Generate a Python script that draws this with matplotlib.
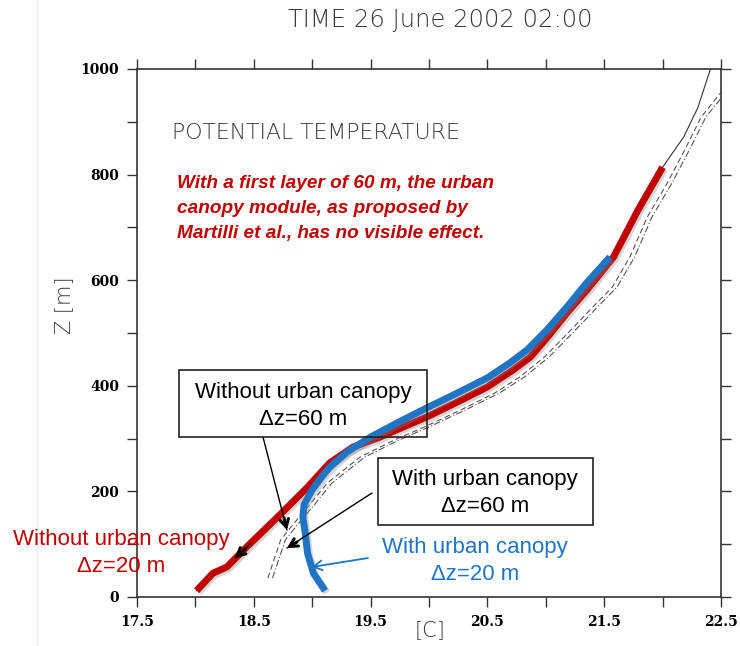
import matplotlib.pyplot as plt
import matplotlib.patheffects as pe
from matplotlib.patches import Rectangle

# potential temperature profiles, 26 June 2002 02:00
# dz = 20 m, no urban canopy (thick red part ends at 814 m)
z_red = [12, 45, 57, 95, 155, 208, 254, 284, 303, 341, 369, 398, 430, 455,
         491, 538, 581, 644, 733, 814, 871, 926, 1000]
t_red = [18.01, 18.15, 18.27, 18.44, 18.72, 18.96, 19.15, 19.35, 19.58, 19.98,
         20.24, 20.50, 20.72, 20.87, 21.01, 21.18, 21.35, 21.58, 21.79, 22.00,
         22.18, 22.30, 22.41]
# dz = 20 m, urban canopy (Martilli)
z_blue = [12, 45, 83, 121, 152, 175, 203, 227, 246, 275, 303, 330, 358, 386,
          415, 443, 468, 506, 549, 595, 644]
t_blue = [19.11, 19.01, 18.96, 18.94, 18.92, 18.93, 19.00, 19.08, 19.15, 19.30,
          19.50, 19.73, 19.98, 20.24, 20.50, 20.69, 20.84, 21.01, 21.18, 21.35,
          21.55]
# dz = 60 m runs
z_dz60 = [36, 108, 133, 170, 216, 265, 297, 322, 354, 386, 417, 455, 500, 544,
          587, 644, 720, 784, 847, 909, 1000]
t_nocan60 = [18.62, 18.73, 18.82, 18.96, 19.13, 19.41, 19.70, 19.96, 20.27,
             20.56, 20.78, 20.99, 21.19, 21.38, 21.57, 21.72, 21.87, 22.04,
             22.19, 22.33, 22.66]
t_can60 = [18.66, 18.77, 18.86, 19.00, 19.17, 19.45, 19.74, 20.00, 20.31,
           20.60, 20.82, 21.03, 21.23, 21.42, 21.61, 21.76, 21.91, 22.08,
           22.23, 22.37, 22.70]

x_ticks = [17.5, 18.5, 19.5, 20.5, 21.5, 22.5]
x_tick_labels = ['17.5', '18.5', '19.5', '20.5', '21.5', '22.5']
x_minor = [18.0, 19.0, 20.0, 21.0, 22.0]
y_ticks = [0, 200, 400, 600, 800, 1000]
y_minor = [100, 300, 500, 700, 900]

RED = '#c00000'
BLUE = '#1f74c4'
GREY = '#555555'
LABEL = '#3a3a3a'

W, H = 740, 646


def fp(x, y):
    # pixel position (from top-left) -> figure fraction
    return (x / W, 1 - y / H)


fig = plt.figure(figsize=(7.4, 6.46), dpi=100)
ax = fig.add_axes([137 / W, 1 - 597 / H, 584 / W, 528 / H])

shadow = [pe.SimpleLineShadow(offset=(1.5, -1.5), shadow_color='#888888', alpha=0.35),
          pe.Normal()]

ax.plot(t_red, z_red, color='#333333', lw=0.8, zorder=2)
ax.plot(t_nocan60, z_dz60, color=GREY, lw=0.8, ls=(0, (5, 3)), zorder=2)
ax.plot(t_can60, z_dz60, color=GREY, lw=0.8, ls=(0, (6, 2, 1, 2)), zorder=2)

red_t = [t for t, z in zip(t_red, z_red) if z <= 814]
red_z = [z for z in z_red if z <= 814]
ax.plot(red_t, red_z, color=RED, lw=5, solid_capstyle='butt',
        solid_joinstyle='round', zorder=4, path_effects=shadow)
ax.plot(t_blue, z_blue, color=BLUE, lw=5, solid_capstyle='butt',
        solid_joinstyle='round', zorder=5, path_effects=shadow)

ax.set_xlim(17.5, 22.5)
ax.set_ylim(0, 1000)
ax.set_xticks(x_ticks)
ax.set_xticklabels(x_tick_labels)
ax.set_xticks(x_minor, minor=True)
ax.set_yticks(y_ticks)
ax.set_yticks(y_minor, minor=True)
ax.tick_params(which='both', direction='out', length=7, width=1, color='#333333',
               top=True, right=True, pad=6)
for lab in ax.get_xticklabels() + ax.get_yticklabels():
    lab.set_fontfamily('DejaVu Serif')
    lab.set_fontweight('bold')
    lab.set_fontsize(10)
for sp in ax.spines.values():
    sp.set_linewidth(1.2)
    sp.set_color('#333333')

fig.text(*fp(440, 20), 'TIME 26 June 2002 02:00', ha='center', va='center',
         fontsize=17.5, color=LABEL, weight='light')
fig.text(*fp(64, 305), 'Z [m]', rotation=90, ha='center', va='center',
         fontsize=15, color=LABEL, weight='light')
fig.text(*fp(430, 630), '[C]', ha='center', va='center', fontsize=15, color=LABEL,
         weight='light')
fig.text(*fp(172, 133), 'POTENTIAL TEMPERATURE', ha='left', va='center',
         fontsize=15.8, color=LABEL, weight='light')

fig.text(*fp(177, 175),
         'With a first layer of 60 m, the urban\n'
         'canopy module, as proposed by\n'
         'Martilli et al., has no visible effect.',
         ha='left', va='top', fontsize=13.7, color=RED, family='Liberation Sans',
         weight='bold', style='italic', linespacing=1.6)

# labelled boxes
for x0, y0, x1, y1 in [(179, 370, 427, 437), (378, 458, 593, 525)]:
    (fx0, fy1), (fx1, fy0) = fp(x0, y0), fp(x1, y1)
    fig.add_artist(Rectangle((fx0, fy0), fx1 - fx0, fy1 - fy0, transform=fig.transFigure,
                             fill=False, edgecolor='#222222', lw=1.2, zorder=6))

fig.text(*fp(303, 406), 'Without urban canopy\n\u0394z=60 m', ha='center', va='center',
         fontsize=16, family='Liberation Sans', color='black', linespacing=1.35)
fig.text(*fp(485, 493), 'With urban canopy\n\u0394z=60 m', ha='center', va='center',
         fontsize=16, family='Liberation Sans', color='black', linespacing=1.35)
fig.text(*fp(121, 553), 'Without urban canopy\n\u0394z=20 m', ha='center', va='center',
         fontsize=16, family='Liberation Sans', color=RED, linespacing=1.35)
fig.text(*fp(475, 561), 'With urban canopy\n\u0394z=20 m', ha='center', va='center',
         fontsize=16, family='Liberation Sans', color=BLUE, linespacing=1.35)


def arrow(tail, tip, back, color, lw):
    # thin shaft plus a bolder open head
    ax.annotate('', xy=fp(*tip), xytext=fp(*tail), xycoords='figure fraction',
                arrowprops=dict(arrowstyle='-', color=color, lw=lw,
                                shrinkA=0, shrinkB=0), zorder=7)
    ax.annotate('', xy=fp(*tip), xytext=fp(*back), xycoords='figure fraction',
                arrowprops=dict(arrowstyle='->,head_length=0.55,head_width=0.3',
                                color=color, lw=2.2, shrinkA=0, shrinkB=0), zorder=7)


arrow((263, 437), (287, 530), (284, 518), 'black', 1.0)
arrow((372, 493), (287, 548), (297, 542), 'black', 1.0)
arrow((250, 544), (235, 558), (245, 549), 'black', 1.0)
ax.annotate('', xy=fp(312, 567), xytext=fp(368, 558), xycoords='figure fraction',
            arrowprops=dict(arrowstyle='->,head_length=0.6,head_width=0.35',
                            color=BLUE, lw=1.3, shrinkA=0, shrinkB=0), zorder=7)

fig.add_artist(plt.Line2D([37 / W, 37 / W], [0, 1], color='#ececec', lw=1,
                          transform=fig.transFigure))

fig.savefig('out.png')
